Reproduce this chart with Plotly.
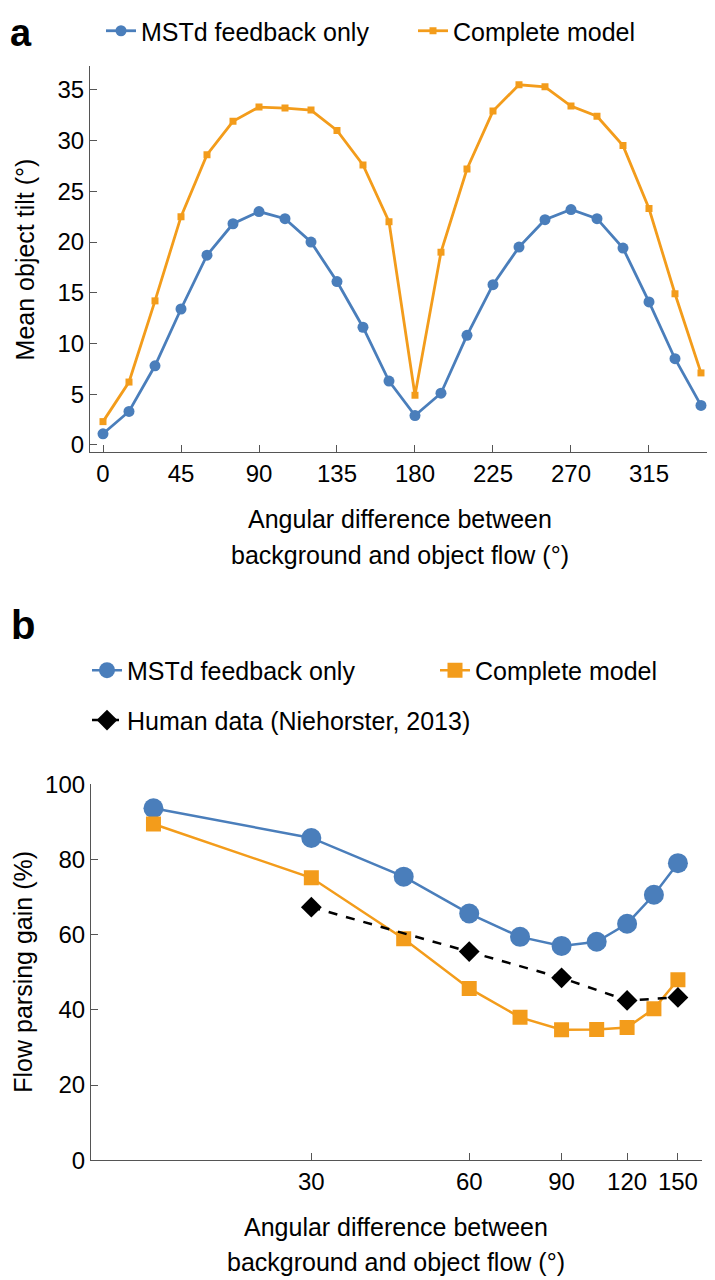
import plotly.graph_objects as go

# ---------------- data ----------------
# Panel a
angles_a = [0, 15, 30, 45, 60, 75, 90, 105, 120, 135, 150, 165,
            180, 195, 210, 225, 240, 255, 270, 285, 300, 315, 330, 345]
mstd_a = [1.1, 3.3, 7.8, 13.4, 18.7, 21.8, 23.0, 22.3, 20.0, 16.1, 11.6, 6.3,
          2.9, 5.1, 10.8, 15.8, 19.5, 22.2, 23.2, 22.3, 19.4, 14.1, 8.5, 3.9]
complete_a = [2.3, 6.2, 14.2, 22.5, 28.6, 31.9, 33.3, 33.2, 33.0, 31.0, 27.6, 22.0,
              4.9, 19.0, 27.2, 32.9, 35.5, 35.3, 33.4, 32.4, 29.5, 23.3, 14.9, 7.1]
ticks_a_x = [0, 45, 90, 135, 180, 225, 270, 315]
ticks_a_y = [0, 5, 10, 15, 20, 25, 30, 35]

# Panel b
angles_b = [15, 30, 45, 60, 75, 90, 105, 120, 135, 150]
mstd_b = [93.6, 85.7, 75.4, 65.6, 59.4, 57.0, 58.1, 62.9, 70.6, 79.0]
complete_b = [89.4, 75.1, 58.9, 45.7, 38.0, 34.7, 34.8, 35.3, 40.3, 48.0]
human_x = [30, 60, 90, 120, 150]
human_b = [67.3, 55.5, 48.5, 42.5, 43.3]
ticks_b_x = [30, 60, 90, 120, 150]
ticks_b_y = [0, 20, 40, 60, 80, 100]

names = ["MSTd feedback only", "Complete model", "Human data (Niehorster, 2013)"]

# ---------------- style ----------------
OFF = 8            # default page body margin
W, H = 715 - OFF, 1280 - OFF
BLUE = "#4A7EBB"
ORANGE = "#F39C1B"
FONT = "Liberation Sans, Arial, sans-serif"
AX = "#555555"


def px_x(p):
    return (p - OFF) / W


def px_y(p):
    return 1 - (p - OFF) / H


fig = go.Figure()

fig.add_trace(go.Scatter(x=angles_a, y=mstd_a, name=names[0], mode="lines+markers",
                         line=dict(color=BLUE, width=2.8),
                         marker=dict(symbol="circle", size=11, color=BLUE),
                         xaxis="x", yaxis="y", legend="legend"))
fig.add_trace(go.Scatter(x=angles_a, y=complete_a, name=names[1], mode="lines+markers",
                         line=dict(color=ORANGE, width=2.8),
                         marker=dict(symbol="square", size=7, color=ORANGE),
                         xaxis="x", yaxis="y", legend="legend2"))

fig.add_trace(go.Scatter(x=angles_b, y=mstd_b, name=names[0], mode="lines+markers",
                         line=dict(color=BLUE, width=2.5),
                         marker=dict(symbol="circle", size=20, color=BLUE),
                         xaxis="x2", yaxis="y2", legend="legend3"))
fig.add_trace(go.Scatter(x=angles_b, y=complete_b, name=names[1], mode="lines+markers",
                         line=dict(color=ORANGE, width=2.5),
                         marker=dict(symbol="square", size=15, color=ORANGE),
                         xaxis="x2", yaxis="y2", legend="legend4"))
fig.add_trace(go.Scatter(x=human_x, y=human_b, name=names[2], mode="lines+markers",
                         line=dict(color="black", width=2.5, dash="dash"),
                         marker=dict(symbol="diamond", size=16, color="black"),
                         xaxis="x2", yaxis="y2", legend="legend5"))

axis_common = dict(showline=True, linecolor=AX, linewidth=1.2, ticks="inside",
                   ticklen=7, tickwidth=1.2, tickcolor=AX, showgrid=False,
                   zeroline=False, automargin=False,
                   tickfont=dict(family=FONT, size=24, color="black"))

fig.update_layout(
    width=W, height=H,
    margin=dict(l=0, r=0, t=0, b=0),
    paper_bgcolor="white", plot_bgcolor="white",
    font=dict(family=FONT, color="black"),
    showlegend=True,
    xaxis=dict(domain=[px_x(90), px_x(710)], range=[-7.5, 350.2],
               tickmode="array", tickvals=ticks_a_x, anchor="y", **axis_common),
    yaxis=dict(domain=[px_y(450), px_y(63)], range=[-0.69, 37.36],
               tickmode="array", tickvals=ticks_a_y, anchor="x", **axis_common),
    xaxis2=dict(domain=[px_x(91), px_x(702)], type="log", range=[1.057, 2.222],
                tickmode="array", tickvals=ticks_b_x,
                ticktext=[str(v) for v in ticks_b_x], anchor="y2", **axis_common),
    yaxis2=dict(domain=[px_y(1160), px_y(783)], range=[0, 100],
                tickmode="array", tickvals=ticks_b_y, anchor="x2", **axis_common),
)

leg_common = dict(orientation="h", xanchor="left", yanchor="middle",
                  bgcolor="rgba(0,0,0,0)", borderwidth=0, visible=True,
                  font=dict(family=FONT, size=25, color="black"))
fig.update_layout(
    legend=dict(x=px_x(101), y=px_y(28), **leg_common),
    legend2=dict(x=px_x(413), y=px_y(28), **leg_common),
    legend3=dict(x=px_x(87), y=px_y(669), **leg_common),
    legend4=dict(x=px_x(435), y=px_y(669), **leg_common),
    legend5=dict(x=px_x(87), y=px_y(719), **leg_common),
)

ann = []
ann.append(dict(text="<b>a</b>", x=px_x(9), y=px_y(52), xanchor="left", yanchor="bottom",
                borderpad=0, font=dict(size=38, family=FONT)))
ann.append(dict(text="<b>b</b>", x=px_x(9), y=px_y(648), xanchor="left", yanchor="bottom",
                font=dict(size=40, family=FONT)))
ann.append(dict(text="Mean object tilt (°)", x=px_x(25), y=px_y(257), textangle=-90,
                xanchor="center", yanchor="middle", font=dict(size=25, family=FONT)))
ann.append(dict(text="Flow parsing gain (%)", x=px_x(23), y=px_y(971), textangle=-90,
                xanchor="center", yanchor="middle", font=dict(size=25, family=FONT)))
ann.append(dict(text="Angular difference between", x=px_x(400), y=px_y(517),
                xanchor="center", yanchor="middle", font=dict(size=25, family=FONT)))
ann.append(dict(text="background and object flow (°)", x=px_x(400), y=px_y(553),
                xanchor="center", yanchor="middle", font=dict(size=25, family=FONT)))
ann.append(dict(text="Angular difference between", x=px_x(396), y=px_y(1227),
                xanchor="center", yanchor="middle", font=dict(size=25, family=FONT)))
ann.append(dict(text="background and object flow (°)", x=px_x(396), y=px_y(1262),
                xanchor="center", yanchor="middle", font=dict(size=25, family=FONT)))
for a in ann:
    a.update(xref="paper", yref="paper", showarrow=False)
fig.update_layout(annotations=ann)

fig.write_html("out.html")
